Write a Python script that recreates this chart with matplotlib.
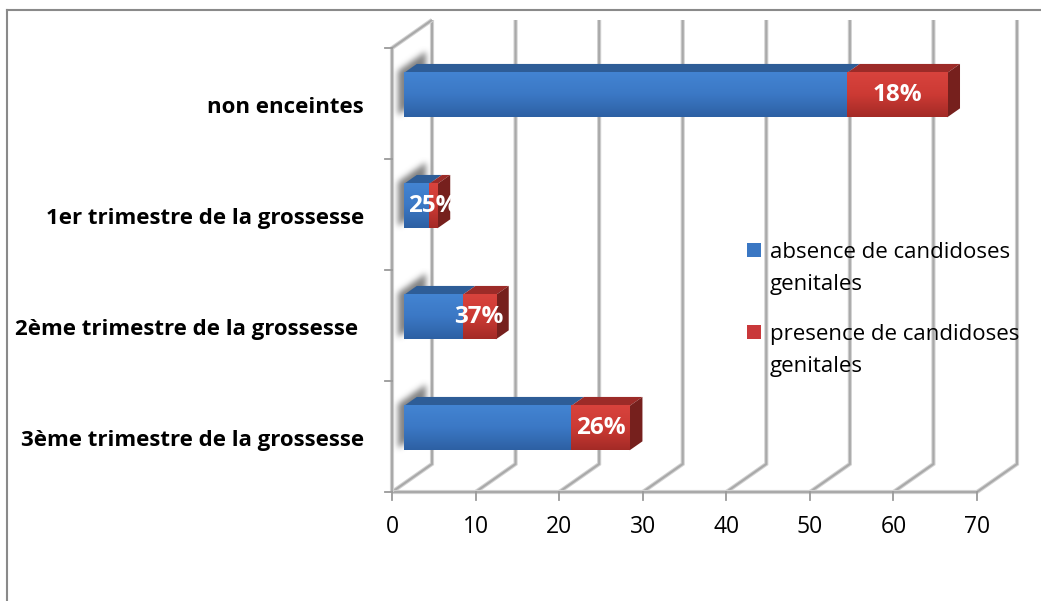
import numpy as np
import matplotlib
matplotlib.use("Agg")
import matplotlib.pyplot as plt
from matplotlib.patches import Polygon
from matplotlib.lines import Line2D
from matplotlib.path import Path
from matplotlib.colors import LinearSegmentedColormap
import matplotlib.transforms as mtrans

# ---- data -------------------------------------------------------------
categories = ["non enceintes", "1er trimestre de la grossesse",
              "2ème trimestre de la grossesse ", "3ème trimestre de la grossesse"]
absence = [53, 3, 7, 20]
presence = [12, 1, 4, 7]
presence_labels = ["18%", "25%", "37%", "26%"]
series_names = [["absence de candidoses", "genitales"],
                ["presence de candidoses", "genitales"]]
x_ticks = [0, 10, 20, 30, 40, 50, 60, 70]

# ---- figure / front plane --------------------------------------------
W, H = 1041, 601
fig = plt.figure(figsize=(W / 100, H / 100), dpi=100)
fig.patch.set_facecolor("white")
ax = fig.add_axes([392 / W, 1 - 492 / H, (977 - 392) / W, (492 - 48) / H])
n = len(categories)
ax.set_xlim(x_ticks[0], x_ticks[-1])
ax.set_ylim(-0.5, n - 0.5)
ax.axis("off")
ypos = np.arange(n)[::-1]          # first category on top

FONT = "Open Sans"
DEPTH = np.array([40.0, 28.0])     # pixel shift from front plane to back wall
BAR_D0, BAR_D1 = 0.30, 0.62        # depth range occupied by the bars
HALF = 0.2                         # half bar thickness (category units)
ident = mtrans.IdentityTransform()


def proj(x, y, d=0.0):
    """Project a (value, category, depth) point to display pixels."""
    return ax.transData.transform((x, y)) + d * DEPTH


def depth_tr(d):
    return ax.transData + mtrans.Affine2D().translate(*(d * DEPTH))


# ---- walls and gridlines ---------------------------------------------
def grid_line(pts, z=1):
    pts = np.asarray(pts)
    for lw, col in ((3.0, "#d2d2d2"), (1.5, "#a9a9a9")):
        ax.add_line(Line2D(pts[:, 0], pts[:, 1], transform=ident, lw=lw,
                           color=col, solid_joinstyle="miter",
                           solid_capstyle="butt", zorder=z, clip_on=False))


ybot, ytop = -0.5, n - 0.5
for v in x_ticks:
    grid_line([proj(v, ybot, 0), proj(v, ybot, 1), proj(v, ytop, 1)])
grid_line([proj(x_ticks[0], ybot, 0), proj(x_ticks[-1], ybot, 0)])
grid_line([proj(0, ybot, 0), proj(0, ytop, 0), proj(0, ytop, 1)])

# tick marks
for k in range(n + 1):
    p = proj(0, ybot + k, 0)
    ax.add_line(Line2D([p[0] - 7, p[0]], [p[1], p[1]], transform=ident,
                       lw=1.3, color="#9a9a9a", zorder=1, clip_on=False))
for v in x_ticks:
    p = proj(v, ybot, 0)
    ax.add_line(Line2D([p[0], p[0]], [p[1], p[1] - 8], transform=ident,
                       lw=1.3, color="#9a9a9a", zorder=1, clip_on=False))
    ax.text(v, ybot, str(v), transform=ax.transData +
            mtrans.Affine2D().translate(0, -35), ha="center", va="center",
            fontsize=16.5, family=FONT, color="black")

# ---- soft shadow at the left end of each bar ---------------------------
def gaussian_blur(img, sigma):
    r = int(3 * sigma)
    k = np.exp(-0.5 * (np.arange(-r, r + 1) / sigma) ** 2)
    k /= k.sum()
    img = np.apply_along_axis(lambda m: np.convolve(m, k, mode="same"), 0, img)
    img = np.apply_along_axis(lambda m: np.convolve(m, k, mode="same"), 1, img)
    return img


for c in ypos:
    poly = np.array([proj(0, c - HALF, BAR_D0), proj(0, c + HALF, BAR_D0),
                     proj(0, c + HALF, 1.0), proj(0, c - HALF, 1.0)])
    poly = poly + np.array([-6.0, 2.0])
    x0, y0 = np.floor(poly.min(axis=0)) - 14
    x1, y1 = np.ceil(poly.max(axis=0)) + 14
    xs = np.arange(x0, x1) + 0.5
    ys = np.arange(y0, y1) + 0.5
    gx, gy = np.meshgrid(xs, ys)
    mask = Path(poly).contains_points(np.c_[gx.ravel(), gy.ravel()])
    mask = mask.reshape(gx.shape).astype(float)
    alpha = np.clip(gaussian_blur(mask, 3.0) * 0.85, 0, 1)
    rgba = np.zeros(mask.shape + (4,))
    rgba[..., :3] = 0.42
    rgba[..., 3] = alpha
    ax.imshow(rgba, extent=[x0, x1, y0, y1], origin="lower", transform=ident,
              interpolation="bilinear", zorder=2, clip_on=False, aspect="auto")

# ---- bars ------------------------------------------------------------
front_cmaps = [
    LinearSegmentedColormap.from_list("b", ["#4384d2", "#3b78c5", "#2d60a3"]),
    LinearSegmentedColormap.from_list("r", ["#d8433d", "#cc3a34", "#a32a26"]),
]
top_cols = ["#2e5d97", "#9c2b28"]
side_col = "#76201d"
grad = np.linspace(0, 1, 256).reshape(-1, 1)
front = depth_tr(BAR_D0)

for i, c in enumerate(ypos):
    starts = [0, absence[i]]
    widths = [absence[i], presence[i]]
    for s, (x0, w) in enumerate(zip(starts, widths)):
        x1 = x0 + w
        top = [proj(x0, c + HALF, BAR_D0), proj(x1, c + HALF, BAR_D0),
               proj(x1, c + HALF, BAR_D1), proj(x0, c + HALF, BAR_D1)]
        ax.add_patch(Polygon(top, closed=True, transform=ident,
                             facecolor=top_cols[s], edgecolor="none",
                             zorder=3, clip_on=False))
        ax.imshow(grad, cmap=front_cmaps[s], extent=[x0, x1, c - HALF, c + HALF],
                  origin="upper", transform=front, aspect="auto",
                  interpolation="bilinear", zorder=4, clip_on=False)
    xe = absence[i] + presence[i]
    side = [proj(xe, c - HALF, BAR_D0), proj(xe, c + HALF, BAR_D0),
            proj(xe, c + HALF, BAR_D1), proj(xe, c - HALF, BAR_D1)]
    ax.add_patch(Polygon(side, closed=True, transform=ident,
                         facecolor=side_col, edgecolor="none",
                         zorder=3, clip_on=False))
    ax.text(absence[i] + presence[i] / 2, c, presence_labels[i],
            transform=front, ha="center", va="center", color="white",
            fontsize=17.5, fontweight="bold", family=FONT, zorder=6)
    ax.text(0, c, categories[i], transform=ax.transData +
            mtrans.Affine2D().translate(-28, -4), ha="right", va="center",
            fontsize=16, fontweight="bold", family=FONT, color="black")

# ---- legend ------------------------------------------------------------
leg_cols = ["#3a77c3", "#c9383a"]
for s, lines in enumerate(series_names):
    top_px = 243 + 82 * s
    ax.add_patch(Polygon([[747, H - top_px - 14], [761, H - top_px - 14],
                          [761, H - top_px], [747, H - top_px]], closed=True,
                         transform=ident, facecolor=leg_cols[s],
                         edgecolor="none", zorder=6, clip_on=False))
    for k, line in enumerate(lines):
        fig.text(770 / W, 1 - (258 + 82 * s + 32 * k) / H, line,
                 ha="left", va="baseline", fontsize=16, family=FONT,
                 color="black")

# ---- chart frame -------------------------------------------------------
for pts in ([[7, 0], [7, H - 10]], [[7, H - 10], [W, H - 10]]):
    pts = np.array(pts, dtype=float)
    fig.add_artist(Line2D(pts[:, 0], pts[:, 1], transform=ident, lw=1.5,
                          color="#8a8a8a"))

fig.savefig("out.png", dpi=100)
